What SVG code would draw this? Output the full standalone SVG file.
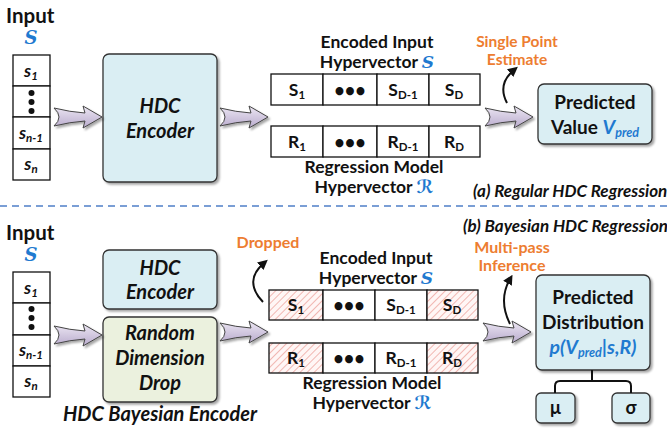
<svg xmlns="http://www.w3.org/2000/svg" width="667" height="432" viewBox="0 0 667 432">
<defs>
<style>
text{font-family:Lato,"Open Sans","Liberation Sans",sans-serif;font-weight:bold;fill:#111}
.c{text-anchor:middle}
.it{font-style:italic}
.blue{fill:#1f7ad0}
.orange{fill:#ed7d31}
.cell{fill:#fff;stroke:#111;stroke-width:1.3}
.hatch{fill:url(#hatch);stroke:#111;stroke-width:1.3}
.box{stroke:#333;stroke-width:1.3;filter:url(#sh)}
.bl{fill:#daeef3}
.gr{fill:#ebf1de}
.conn{fill:none;stroke:#111;stroke-width:2}
.blk{fill:url(#ag);stroke:#444;stroke-width:1;filter:url(#sh)}
.scr{font-family:"DejaVu Serif","Liberation Serif",serif;font-style:italic;font-weight:bold}
.rs{font-family:"DejaVu Sans",sans-serif;font-weight:bold}
</style>
<filter id="sh" x="-20%" y="-20%" width="150%" height="150%">
<feDropShadow dx="2" dy="2" stdDeviation="1.3" flood-color="#000" flood-opacity="0.35"/>
</filter>
<linearGradient id="ag" x1="0" y1="0" x2="0" y2="1">
<stop offset="0" stop-color="#ece7f3"/>
<stop offset="1" stop-color="#b9abcd"/>
</linearGradient>
<pattern id="hatch" width="5" height="5" patternUnits="userSpaceOnUse" patternTransform="rotate(45)">
<rect width="5" height="5" fill="#fff6f5"/>
<line x1="0" y1="0" x2="0" y2="5" stroke="#e06a60" stroke-width="0.9"/>
</pattern>
<path id="barrow" d="M0,-9 Q16,-5 31,-4 L29,-11 L48,0 L29,11 L31,4 Q16,5 0,9 Q10,0 0,-9 Z"/>
<marker id="ah" viewBox="0 0 10 10" refX="5" refY="5" markerWidth="5" markerHeight="5" orient="auto">
<path d="M0,0 L10,5 L0,10 Z" fill="#111"/>
</marker>
</defs>

<!-- ===== (a) Regular HDC Regression ===== -->
<g id="input-a">
<text x="6" y="23" font-size="20.5">Input</text>
<text x="31" y="44" class="c scr blue" font-size="18">S</text>
<rect class="cell" x="13" y="55" width="37" height="31"/>
<rect class="cell" x="13" y="86" width="37" height="31"/>
<rect class="cell" x="13" y="117" width="37" height="32"/>
<rect class="cell" x="13" y="149" width="37" height="31"/>
<text x="31" y="77" class="c it" font-size="17.5">s<tspan font-size="11.5" dy="3">1</tspan></text>
<circle cx="31.5" cy="93" r="3" fill="#111"/>
<circle cx="31.5" cy="102" r="3" fill="#111"/>
<circle cx="31.5" cy="111" r="3" fill="#111"/>
<text x="31" y="139" class="c it" font-size="17.5">s<tspan font-size="11.5" dy="3">n-1</tspan></text>
<text x="31" y="170" class="c it" font-size="17.5">s<tspan font-size="11.5" dy="3">n</tspan></text>
</g>

<g id="encoder-a">
<rect class="box bl" x="103" y="54" width="114" height="128" rx="6"/>
<text x="160" y="113" class="c it" font-size="20">HDC</text>
<text x="160" y="138" class="c it" font-size="20">Encoder</text>
</g>

<g id="hvS-a">
<text x="377" y="48" class="c" font-size="17.5">Encoded Input</text>
<text x="377" y="68" class="c" font-size="17.5">Hypervector <tspan class="scr blue" font-size="17">S</tspan></text>
<rect class="cell" x="271" y="74" width="52" height="31"/>
<rect class="cell" x="323" y="74" width="54" height="31"/>
<rect class="cell" x="377" y="74" width="52" height="31"/>
<rect class="cell" x="429" y="74" width="51" height="31"/>
<text x="297" y="96" class="c" font-size="17.5">S<tspan font-size="11.5" dy="3">1</tspan></text>
<text x="350" y="97" class="c" font-size="18">•••</text>
<text x="403" y="96" class="c" font-size="17.5">S<tspan font-size="11.5" dy="3">D-1</tspan></text>
<text x="454" y="96" class="c" font-size="17.5">S<tspan font-size="11.5" dy="3">D</tspan></text>
</g>

<g id="hvR-a">
<rect class="cell" x="271" y="126" width="52" height="31"/>
<rect class="cell" x="323" y="126" width="54" height="31"/>
<rect class="cell" x="377" y="126" width="52" height="31"/>
<rect class="cell" x="429" y="126" width="51" height="31"/>
<text x="297" y="148" class="c" font-size="17.5">R<tspan font-size="11.5" dy="3">1</tspan></text>
<text x="350" y="149" class="c" font-size="18">•••</text>
<text x="403" y="148" class="c" font-size="17.5">R<tspan font-size="11.5" dy="3">D-1</tspan></text>
<text x="454" y="148" class="c" font-size="17.5">R<tspan font-size="11.5" dy="3">D</tspan></text>
<text x="374" y="173" class="c" font-size="17.5">Regression Model</text>
<text x="374" y="193" class="c" font-size="17.5">Hypervector <tspan class="rs blue" font-size="18">ℛ</tspan></text>
</g>

<g id="label-single">
<text x="517" y="47" class="c orange" font-size="15.5">Single Point</text>
<text x="517" y="65" class="c orange" font-size="15.5">Estimate</text>
</g>

<g id="pred-a">
<rect class="box bl" x="538" y="84" width="114" height="60" rx="6"/>
<text x="595" y="109" class="c" font-size="19">Predicted</text>
<text x="595" y="134" class="c" font-size="19">Value <tspan class="it blue" font-size="19.5">V</tspan><tspan class="it blue" font-size="12.5" dy="3">pred</tspan></text>
</g>

<text id="title-a" x="473" y="197" class="it" font-size="17">(a) Regular HDC Regression</text>

<line id="divider" x1="0" y1="206" x2="667" y2="206" stroke="#4f7fc8" stroke-width="1.3" stroke-dasharray="7,5"/>

<!-- ===== (b) Bayesian HDC Regression ===== -->
<text id="title-b" x="463" y="232" class="it" font-size="17">(b) Bayesian HDC Regression</text>

<g id="input-b">
<text x="6" y="240" font-size="20.5">Input</text>
<text x="31" y="261" class="c scr blue" font-size="18">S</text>
<rect class="cell" x="13" y="272" width="37" height="31"/>
<rect class="cell" x="13" y="303" width="37" height="32"/>
<rect class="cell" x="13" y="335" width="37" height="31"/>
<rect class="cell" x="13" y="366" width="37" height="31"/>
<text x="31" y="294" class="c it" font-size="17.5">s<tspan font-size="11.5" dy="3">1</tspan></text>
<circle cx="31.5" cy="309" r="3" fill="#111"/>
<circle cx="31.5" cy="318" r="3" fill="#111"/>
<circle cx="31.5" cy="327" r="3" fill="#111"/>
<text x="31" y="356" class="c it" font-size="17.5">s<tspan font-size="11.5" dy="3">n-1</tspan></text>
<text x="31" y="387" class="c it" font-size="17.5">s<tspan font-size="11.5" dy="3">n</tspan></text>
</g>

<g id="encoder-b">
<rect class="box bl" x="103" y="250" width="114" height="59" rx="6"/>
<text x="160" y="275" class="c it" font-size="20">HDC</text>
<text x="160" y="299" class="c it" font-size="20">Encoder</text>
</g>

<g id="dropout-b">
<rect class="box gr" x="103" y="317" width="114" height="85" rx="6"/>
<text x="160" y="340" class="c it" font-size="20">Random</text>
<text x="160" y="365" class="c it" font-size="20">Dimension</text>
<text x="160" y="390" class="c it" font-size="20">Drop</text>
</g>

<text id="bayes-label" x="160" y="421" class="c it" font-size="20">HDC Bayesian Encoder</text>

<g id="label-dropped">
<text x="268" y="248" class="c orange" font-size="16">Dropped</text>
</g>

<g id="hvS-b">
<text x="376" y="264" class="c" font-size="17.5">Encoded Input</text>
<text x="376" y="284" class="c" font-size="17.5">Hypervector <tspan class="scr blue" font-size="17">S</tspan></text>
<rect class="hatch" x="269" y="290" width="54" height="30"/>
<rect class="cell" x="323" y="290" width="52" height="30"/>
<rect class="cell" x="375" y="290" width="52" height="30"/>
<rect class="hatch" x="427" y="290" width="51" height="30"/>
<text x="296" y="311" class="c" font-size="17.5">S<tspan font-size="11.5" dy="3">1</tspan></text>
<text x="349" y="312" class="c" font-size="18">•••</text>
<text x="401" y="311" class="c" font-size="17.5">S<tspan font-size="11.5" dy="3">D-1</tspan></text>
<text x="452" y="311" class="c" font-size="17.5">S<tspan font-size="11.5" dy="3">D</tspan></text>
</g>

<g id="hvR-b">
<rect class="hatch" x="269" y="343" width="54" height="30"/>
<rect class="cell" x="323" y="343" width="52" height="30"/>
<rect class="cell" x="375" y="343" width="52" height="30"/>
<rect class="hatch" x="427" y="343" width="51" height="30"/>
<text x="296" y="364" class="c" font-size="17.5">R<tspan font-size="11.5" dy="3">1</tspan></text>
<text x="349" y="365" class="c" font-size="18">•••</text>
<text x="401" y="364" class="c" font-size="17.5">R<tspan font-size="11.5" dy="3">D-1</tspan></text>
<text x="452" y="364" class="c" font-size="17.5">R<tspan font-size="11.5" dy="3">D</tspan></text>
<text x="372" y="389" class="c" font-size="17.5">Regression Model</text>
<text x="372" y="409" class="c" font-size="17.5">Hypervector <tspan class="rs blue" font-size="18">ℛ</tspan></text>
</g>

<g id="label-multipass">
<text x="512" y="253" class="c orange" font-size="16">Multi-pass</text>
<text x="512" y="271" class="c orange" font-size="16">Inference</text>
</g>

<g id="pred-b">
<rect class="box bl" x="536" y="275" width="114" height="95" rx="6"/>
<text x="593" y="304" class="c" font-size="19">Predicted</text>
<text x="593" y="329" class="c" font-size="19">Distribution</text>
<text x="593" y="354" class="c it blue" font-size="19.5">p(V<tspan font-size="12.5" dy="3">pred</tspan><tspan dy="-3">|s,R)</tspan></text>
</g>

<g id="mu">
<rect class="box bl" x="536" y="393" width="39" height="30" rx="5"/>
<text x="555.5" y="414" class="c" font-size="18">μ</text>
</g>
<g id="sigma">
<rect class="box bl" x="612" y="393" width="38" height="30" rx="5"/>
<text x="631" y="414" class="c" font-size="18">σ</text>
</g>

<!-- ===== connectors ===== -->
<g id="connectors">
<use href="#barrow" class="blk" transform="translate(54,117)"/>
<use href="#barrow" class="blk" transform="translate(220,117)"/>
<use href="#barrow" class="blk" transform="translate(485,117)"/>
<use href="#barrow" class="blk" transform="translate(54,335)"/>
<use href="#barrow" class="blk" transform="translate(220,332)"/>
<use href="#barrow" class="blk" transform="translate(483,332)"/>
<path class="conn" d="M507,103 Q497,84 514,70" marker-end="url(#ah)"/>
<path class="conn" d="M263,302 Q243,281 264,263" marker-end="url(#ah)"/>
<path class="conn" d="M510,324 Q498,300 510,279" marker-end="url(#ah)"/>
<path class="conn" d="M592,370 V381 M555,393 V386 Q555,381 560,381 H626 Q631,381 631,386 V393"/>
</g>
</svg>
